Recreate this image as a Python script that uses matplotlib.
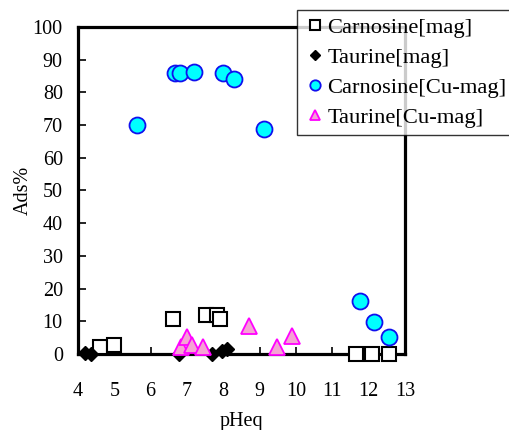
import matplotlib.pyplot as plt

plt.rcParams['font.family'] = ['Liberation Serif', 'DejaVu Serif']

# Carnosine on magnetite
carn_mag_ph = [4.61, 4.99, 6.61, 7.52, 7.82, 7.91, 11.64, 12.08, 12.56]
carn_mag_ads = [2.2, 2.8, 10.8, 11.8, 11.8, 10.8, 0.0, 0.0, 0.0]

# Taurine on magnetite
taur_mag_ph = [4.19, 4.35, 6.79, 7.69, 7.95, 8.10]
taur_mag_ads = [0.3, 0.0, 0.0, 0.0, 0.8, 1.4]

# Carnosine on Cu-magnetite
carn_cu_ph = [5.62, 6.67, 6.81, 7.20, 8.00, 8.30, 9.12, 11.75, 12.14, 12.56]
carn_cu_ads = [69.9, 85.8, 85.8, 86.3, 85.9, 84.2, 68.8, 16.2, 9.8, 5.1]

# Taurine on Cu-magnetite
taur_cu_ph = [6.83, 7.01, 7.13, 7.45, 8.70, 9.47, 9.90]
taur_cu_ads = [2.0, 5.1, 2.8, 2.0, 8.6, 2.0, 5.5]

fig = plt.figure(figsize=(5.1, 4.3), dpi=100)
ax = fig.add_axes([0.153, 0.177, 0.641, 0.76])

ax.plot(carn_mag_ph, carn_mag_ads, 's', ms=10, mfc='white', mec='black', mew=1.5,
        label='Carnosine[mag]', clip_on=False, zorder=3)
ax.plot(taur_mag_ph, taur_mag_ads, 'D', ms=7.5, mfc='black', mec='black',
        label='Taurine[mag]', clip_on=False, zorder=3)
ax.plot(carn_cu_ph, carn_cu_ads, 'o', ms=11.5, mfc='#00ffff', mec='#1010ee', mew=1.3,
        label='Carnosine[Cu-mag]', clip_on=False, zorder=3)
ax.plot(taur_cu_ph, taur_cu_ads, '^', ms=11, mfc='#f5a3d3', mec='#ff00ff', mew=1.3,
        label='Taurine[Cu-mag]', clip_on=False, zorder=3)

ax.set_xlim(4, 13)
ax.set_ylim(0, 100)
ax.set_xticks(range(4, 14))
ax.set_yticks(range(0, 101, 10))
ax.tick_params(direction='in', labelsize=14.5, width=1.2)
ax.tick_params(axis='y', length=6, pad=11)
ax.tick_params(axis='x', length=5, pad=20)
for s in ax.spines.values():
    s.set_linewidth(2.3)
ax.set_xlabel('pHeq', fontsize=14.5, labelpad=8)
ax.set_ylabel('Ads%', fontsize=14.5, labelpad=0)

leg = fig.legend(loc='upper left', bbox_to_anchor=(297 / 510, 1 - 10 / 430),
                 fontsize=16.2, markerscale=0.65, handletextpad=0.05, handlelength=1.0,
                 borderpad=0.3, labelspacing=0.42, fancybox=False, frameon=True,
                 borderaxespad=0)
leg.get_frame().set_edgecolor('black')
leg.get_frame().set_linewidth(1.0)

fig.savefig('out.png', dpi=100)
